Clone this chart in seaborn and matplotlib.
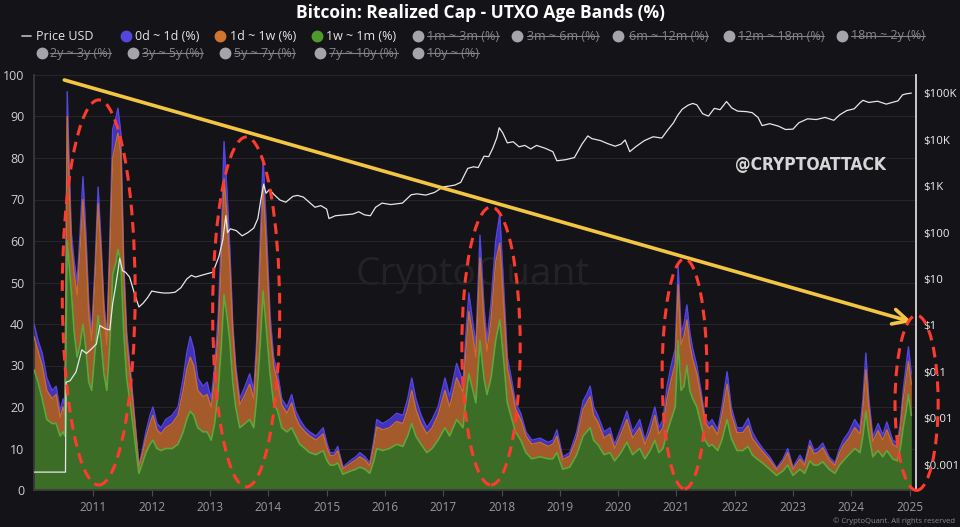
import matplotlib
matplotlib.use('Agg')
import matplotlib.pyplot as plt
import seaborn as sns
import pandas as pd
from matplotlib.patches import Ellipse
from matplotlib.lines import Line2D
from matplotlib.ticker import NullLocator

# ---------------------------------------------------------------------------
# Data
# ---------------------------------------------------------------------------
band_year = [
    2009.98, 2010.05, 2010.12, 2010.20, 2010.29, 2010.36, 2010.43, 2010.48, 2010.51, 2010.55,
    2010.58, 2010.62, 2010.67, 2010.72, 2010.77, 2010.82, 2010.87, 2010.92, 2010.97,
    2011.03, 2011.08, 2011.13, 2011.18, 2011.23, 2011.28, 2011.33, 2011.39, 2011.42, 2011.47,
    2011.52, 2011.57, 2011.64, 2011.71, 2011.78, 2011.83, 2011.90, 2011.97,
    2012.02, 2012.09, 2012.16, 2012.24, 2012.35, 2012.45, 2012.54, 2012.60, 2012.66, 2012.72,
    2012.79, 2012.88, 2012.95,
    2013.02, 2013.08, 2013.14, 2013.19, 2013.24, 2013.29, 2013.34, 2013.39, 2013.44, 2013.51,
    2013.60, 2013.68, 2013.75, 2013.80, 2013.86, 2013.91, 2013.96,
    2014.03, 2014.09, 2014.16, 2014.23, 2014.32, 2014.40, 2014.47, 2014.54, 2014.63, 2014.71,
    2014.82, 2014.94,
    2015.01, 2015.06, 2015.13, 2015.19, 2015.28, 2015.40, 2015.50, 2015.57, 2015.66, 2015.74,
    2015.81, 2015.86, 2015.96,
    2016.08, 2016.20, 2016.31, 2016.39, 2016.46, 2016.53, 2016.62, 2016.72, 2016.81, 2016.91,
    2017.03, 2017.11, 2017.23, 2017.34, 2017.39, 2017.44, 2017.51, 2017.56, 2017.63, 2017.70,
    2017.75, 2017.82, 2017.90, 2017.97,
    2018.04, 2018.10, 2018.18, 2018.24, 2018.33, 2018.42, 2018.52, 2018.66, 2018.80, 2018.88,
    2018.95,
    2019.05, 2019.17, 2019.29, 2019.40, 2019.46, 2019.52, 2019.58, 2019.65, 2019.76, 2019.86,
    2019.94,
    2020.05, 2020.15, 2020.25, 2020.37, 2020.46, 2020.55, 2020.63, 2020.70, 2020.77, 2020.84,
    2020.91, 2020.98,
    2021.03, 2021.08, 2021.13, 2021.18, 2021.23, 2021.28, 2021.35, 2021.42, 2021.49, 2021.56,
    2021.61, 2021.71, 2021.78, 2021.87, 2021.94,
    2022.04, 2022.14, 2022.23, 2022.30, 2022.38, 2022.48, 2022.60, 2022.72, 2022.83, 2022.91,
    2023.00, 2023.12, 2023.20, 2023.29, 2023.36, 2023.43, 2023.51, 2023.62, 2023.72, 2023.80,
    2023.86, 2023.96,
    2024.06, 2024.15, 2024.20, 2024.25, 2024.30, 2024.37, 2024.46, 2024.54, 2024.61, 2024.71,
    2024.79, 2024.84, 2024.89, 2024.94, 2024.98, 2025.03,
]

# 1w ~ 1m band (%), bottom layer
band_1w_1m = [
    29, 26, 22, 17, 16, 16, 13, 14, 13, 60,
    55, 48, 38, 32, 35, 40, 34, 26, 24,
    34, 42, 36, 28, 24, 35, 52, 55, 58, 55,
    38, 27, 20, 12, 4, 6, 9, 11,
    12, 10, 9.5, 10, 10, 11, 14, 17, 19, 18,
    15, 14, 14,
    12, 16, 24, 34, 47, 42, 36, 26, 20, 15,
    16, 17, 15, 22, 35, 48, 40,
    28, 21, 19, 15, 14, 15, 13, 11, 10, 9,
    8.5, 9.5,
    7, 6, 6, 6.5, 3.8, 4.5, 5, 5.5, 5, 4,
    7, 10, 9.5,
    10, 11, 10.5, 13, 16, 13, 11, 9, 10, 12,
    15, 13, 17, 15, 22, 28, 24, 21, 36, 27,
    23, 27, 36, 41,
    31, 21, 17, 14, 12, 9, 7.5, 8, 7.5, 7.5,
    9,
    5, 5.5, 8.5, 13, 14, 15, 12, 11, 8.5, 9,
    7,
    9, 11.5, 8.5, 10, 7.5, 9.5, 12, 9, 10, 14,
    17, 20,
    36, 24, 25, 30, 24, 22, 20, 16, 12, 10.5,
    11, 9.5, 12, 17, 12.5,
    9.5, 9.5, 10.5, 8.5, 7.5, 6.5, 5, 3.5, 4.6, 6,
    3.5, 5, 4, 7, 6, 6, 6.8, 5, 4, 6,
    7, 8.5,
    10, 9, 13, 19, 13.5, 8, 9.5, 8, 9.5, 7.5,
    7, 10, 15, 19, 23, 18,
]

# 1d ~ 1w band (%), middle layer
band_1d_1w = [
    8, 7.5, 8, 7, 6, 7, 4.5, 6, 5, 30,
    20, 11, 14, 15, 23, 30, 24, 16, 12,
    18, 27, 21, 15, 11, 21, 28, 29, 28, 26,
    14, 9, 6.5, 4, 1.5, 2.2, 3.5, 5,
    6, 4.5, 4, 5, 6, 7, 10, 12, 13, 12,
    9, 8.5, 9,
    8, 11, 14, 20, 28, 24, 18, 12, 8.5, 5.5,
    7, 8.5, 7, 11, 20, 25, 20,
    11, 9, 7, 5.5, 4.5, 6, 4.5, 4.5, 4, 4,
    3.5, 4,
    3, 2.3, 2.2, 3, 1.3, 1.8, 2.2, 2.5, 2.2, 1.8,
    3.8, 5.2, 5,
    5, 5.5, 5.5, 6.5, 8, 6.5, 5, 4.5, 5, 6,
    9, 7, 10, 8.5, 12, 15, 13, 11, 20, 13.5,
    10.5, 14, 19, 18.5,
    13, 8.5, 7, 5.5, 5, 4, 3.5, 3.5, 3, 3.5,
    4,
    2.3, 2.7, 4, 6.5, 7, 7.5, 6, 5.5, 4, 4.5,
    3,
    4.5, 5.5, 4, 5, 3.5, 4.5, 6, 4.5, 5, 8,
    9.5, 10.5,
    13.5, 11, 12, 11, 11, 9.5, 8, 6.5, 4.5, 4.3,
    4.5, 3.8, 6, 8.5, 5.8,
    4.3, 4.3, 5, 4, 3.5, 2.7, 2.3, 1.4, 2.2, 3,
    1.5, 2.5, 1.9, 3.7, 2.7, 3, 3.4, 2.3, 1.9, 3,
    3.7, 4,
    5, 4.5, 6.5, 10, 6.5, 3.7, 4.8, 4, 5, 3.5,
    3.3, 4.5, 6.8, 8, 8, 7.5,
]

# 0d ~ 1d band (%), top layer
band_0d_1d = [
    3, 2.5, 3, 3, 2, 2, 1.5, 2, 2, 6,
    5, 3, 3, 3, 4, 5.5, 4, 3, 2,
    3, 4, 3, 2, 2, 4, 7, 6, 6, 5,
    3, 2, 1.5, 1, 0.5, 0.8, 1.5, 2,
    2, 1.5, 1.5, 2, 2, 2, 3, 4, 5, 4,
    3, 2.5, 3,
    2, 3, 4, 6, 9, 6, 4, 2, 1.5, 1.5,
    2, 2.5, 2, 3, 5, 7, 5,
    3, 2, 2, 1.5, 1.5, 2, 1.5, 1.5, 1, 1,
    1, 1.5,
    1, 0.7, 0.8, 1, 0.4, 0.7, 0.8, 1, 0.8, 0.7,
    1.2, 1.8, 1.5,
    2, 2, 2, 2.5, 3, 2.5, 2, 1.5, 2, 2,
    3, 2.5, 3.5, 2.5, 4, 4.5, 3, 3, 5.4, 3.5,
    2.5, 4, 5, 7,
    4, 2.5, 2, 1.5, 1.5, 1, 1, 1, 1, 1,
    1.5,
    0.7, 0.8, 1.5, 2, 2, 2.5, 2, 1.5, 1.5, 1.5,
    1,
    1.5, 2, 1.5, 2, 1, 2, 2, 1.5, 2, 3,
    3.5, 3.5,
    4.5, 3, 3, 3.6, 3, 2.5, 2, 1.5, 1, 1.2,
    1.5, 1.2, 2, 3, 1.7,
    1.2, 1.2, 1.8, 1.5, 1, 0.8, 0.7, 0.4, 0.7, 1,
    0.5, 0.9, 0.6, 1.3, 0.9, 1, 1.1, 0.7, 0.6, 1,
    1.3, 1.5,
    2, 1.5, 2.5, 4, 2, 1.1, 1.7, 1.3, 1.9, 1,
    1, 1.5, 2.2, 3, 3.5, 2.5,
]

price_year = [
    2009.98, 2010.52, 2010.53, 2010.60, 2010.70, 2010.80, 2010.88, 2010.95, 2011.05, 2011.11,
    2011.20, 2011.28, 2011.33, 2011.38, 2011.42, 2011.45, 2011.50, 2011.55, 2011.62, 2011.70,
    2011.78, 2011.85, 2011.93, 2012.00, 2012.10, 2012.20, 2012.30, 2012.40, 2012.50, 2012.60,
    2012.68, 2012.75, 2012.85, 2012.95, 2013.05, 2013.15, 2013.22, 2013.27, 2013.30, 2013.35,
    2013.45, 2013.55, 2013.65, 2013.75, 2013.82, 2013.87, 2013.92, 2013.96, 2014.02, 2014.10,
    2014.20, 2014.30, 2014.42, 2014.50, 2014.60, 2014.70, 2014.80, 2014.90, 2015.00, 2015.04,
    2015.15, 2015.30, 2015.45, 2015.55, 2015.65, 2015.75, 2015.84, 2015.95, 2016.10, 2016.30,
    2016.45, 2016.55, 2016.70, 2016.85, 2017.00, 2017.10, 2017.20, 2017.30, 2017.42, 2017.52,
    2017.60, 2017.70, 2017.78, 2017.85, 2017.92, 2017.96, 2018.02, 2018.10, 2018.20, 2018.30,
    2018.40, 2018.50, 2018.60, 2018.75, 2018.88, 2018.95, 2019.10, 2019.25, 2019.38, 2019.48,
    2019.55, 2019.70, 2019.82, 2019.95, 2020.05, 2020.12, 2020.20, 2020.30, 2020.45, 2020.60,
    2020.75, 2020.85, 2020.95, 2021.02, 2021.10, 2021.20, 2021.28, 2021.35, 2021.45, 2021.55,
    2021.65, 2021.75, 2021.86, 2021.95, 2022.05, 2022.20, 2022.30, 2022.40, 2022.47, 2022.60,
    2022.75, 2022.87, 2023.00, 2023.10, 2023.25, 2023.40, 2023.55, 2023.70, 2023.80, 2023.92,
    2024.05, 2024.15, 2024.20, 2024.30, 2024.45, 2024.60, 2024.70, 2024.80, 2024.88, 2024.95,
    2025.03,
]

price_usd = [
    0.0007, 0.0007, 0.06, 0.065, 0.1, 0.3, 0.25, 0.3, 0.4, 1.0,
    0.85, 0.8, 3.0, 7, 15, 28, 15, 14, 11, 5,
    2.5, 3.0, 4, 5.5, 5.2, 5, 5, 5.2, 6.5, 10,
    12, 11, 12, 13, 14, 30, 70, 230, 100, 120,
    110, 85, 100, 125, 200, 500, 1100, 700, 850, 650,
    500, 450, 600, 630, 580, 450, 350, 380, 320, 200,
    230, 240, 250, 280, 240, 230, 350, 430, 400, 430,
    650, 680, 640, 730, 960, 1000, 1050, 1200, 2400, 2600,
    2500, 4400, 4300, 6500, 11000, 18000, 14000, 8500, 9000, 7000,
    7500, 6300, 7500, 6500, 5500, 3500, 3700, 4100, 8000, 12000,
    10500, 9500, 8200, 7200, 8000, 9800, 5500, 7000, 9500, 11500,
    10800, 16000, 23000, 33000, 45000, 55000, 60000, 56000, 36000, 32000,
    47000, 44000, 66000, 48000, 41000, 40000, 38000, 30000, 20000, 22000,
    19500, 16500, 16800, 23000, 28000, 27000, 30000, 26000, 34000, 42000,
    46000, 62000, 70000, 63000, 67000, 58000, 63000, 68000, 92000, 97000,
    100000,
]

year_ticks = list(range(2011, 2026))
pct_ticks = list(range(0, 101, 10))
price_ticks = [0.001, 0.01, 0.1, 1, 10, 100, 1e3, 1e4, 1e5]
price_tick_labels = ['$0.001', '$0.01', '$0.1', '$1', '$10', '$100', '$1K', '$10K', '$100K']

title = 'Bitcoin: Realized Cap - UTXO Age Bands (%)'
legend_active = ['0d ~ 1d (%)', '1d ~ 1w (%)', '1w ~ 1m (%)']
legend_hidden = ['1m ~ 3m (%)', '3m ~ 6m (%)', '6m ~ 12m (%)', '12m ~ 18m (%)',
                 '18m ~ 2y (%)', '2y ~ 3y (%)', '3y ~ 5y (%)', '5y ~ 7y (%)',
                 '7y ~ 10y (%)', '10y ~ (%)']

assert len(band_year) == len(band_1w_1m) == len(band_1d_1w) == len(band_0d_1d)
assert len(price_year) == len(price_usd)

# ---------------------------------------------------------------------------
# Style
# ---------------------------------------------------------------------------
BG = '#141418'
BLUE, ORANGE, GREEN = '#4232bd', '#a45a2b', '#3b6d27'
BLUE_EDGE, ORANGE_EDGE, GREEN_EDGE = '#5646e0', '#c76e2f', '#5da83b'
GREY = '#84848a'

sns.set_theme(style='dark', rc={'axes.facecolor': BG, 'figure.facecolor': BG})
plt.rcParams['font.family'] = ['Open Sans', 'DejaVu Sans']

W, H = 960, 527
fig = plt.figure(figsize=(W / 100, H / 100), dpi=100, facecolor=BG)
ax = fig.add_axes([34 / W, 1 - 490 / H, (916 - 34) / W, (490 - 75) / H])
ax.set_facecolor(BG)

# stacked bands
df = pd.DataFrame({'year': band_year, 'g': band_1w_1m, 'o': band_1d_1w, 'b': band_0d_1d})
df['g_top'] = df['g']
df['o_top'] = df['g'] + df['o']
df['b_top'] = df['o_top'] + df['b']

ax.fill_between(df['year'], df['o_top'], df['b_top'], color=BLUE, lw=0, zorder=2)
ax.fill_between(df['year'], df['g_top'], df['o_top'], color=ORANGE, lw=0, zorder=2)
ax.fill_between(df['year'], 0, df['g_top'], color=GREEN, lw=0, zorder=2)
sns.lineplot(data=df, x='year', y='b_top', color=BLUE_EDGE, lw=1.0, ax=ax, zorder=3)
sns.lineplot(data=df, x='year', y='o_top', color=ORANGE_EDGE, lw=1.0, ax=ax, zorder=3)
sns.lineplot(data=df, x='year', y='g_top', color=GREEN_EDGE, lw=1.2, ax=ax, zorder=3)

ax.set_xlim(2009.98, 2025.11)
ax.set_ylim(0, 100)
ax.set_xticks(year_ticks)
ax.set_xticklabels([str(y) for y in year_ticks])
ax.set_yticks(pct_ticks)
ax.set_yticklabels([str(v) for v in pct_ticks])
ax.set_xlabel('')
ax.set_ylabel('')
ax.yaxis.grid(True, color='#26262c', lw=0.7)
ax.xaxis.grid(False)
ax.set_axisbelow(True)
ax.tick_params(axis='y', length=0, pad=7, labelsize=9, labelcolor='#cfcfcf')
ax.tick_params(axis='x', length=4, width=0.8, color='#4a4a50', pad=4,
               labelsize=8.5, labelcolor='#9a9a9a', bottom=True)
for side in ['top', 'right']:
    ax.spines[side].set_visible(False)
ax.spines['left'].set_color('#3a3a40')
ax.spines['bottom'].set_color('#3a3a40')

# faint CryptoQuant watermark
ax.text(0.497, 0.518, 'CryptoQuant', transform=ax.transAxes, ha='center', va='center',
        fontsize=28, color='#232327', zorder=1)

# price on a log axis
ax2 = ax.twinx()
ax2.set_yscale('log')
sns.lineplot(x=price_year, y=price_usd, color='#e6e6e6', lw=0.9, ax=ax2, zorder=4)
ax2.set_ylim(10 ** -3.54, 10 ** 5.39)
ax2.set_yticks(price_ticks)
ax2.set_yticklabels(price_tick_labels)
ax2.yaxis.set_minor_locator(NullLocator())
ax2.set_ylabel('')
ax2.tick_params(axis='y', length=0, pad=5, labelsize=8.2, labelcolor='#ececec')
for side in ['top', 'left', 'bottom']:
    ax2.spines[side].set_visible(False)
ax2.spines['right'].set_color('#d8d8d8')
ax2.spines['right'].set_linewidth(1.3)
ax2.grid(False)

# yellow trend arrow
ax2.annotate('', xy=(2025.04, 40.5), xytext=(2010.5, 98.8),
             xycoords=ax.transData, textcoords=ax.transData, annotation_clip=False,
             arrowprops=dict(arrowstyle='->,head_length=0.9,head_width=0.45',
                             color='#f4c542', lw=2.6, shrinkA=0, shrinkB=0), zorder=6)

# red dashed highlight ellipses (centre x, centre y, width, height)
for cx, cy, w, h in [(2011.09, 47.6, 1.25, 92.8), (2013.62, 42.9, 1.15, 84.3),
                     (2017.82, 34.7, 1.0, 67.0), (2021.14, 28.0, 0.77, 55.4),
                     (2025.12, 21.0, 0.74, 42.2)]:
    e = Ellipse((cx, cy), w, h, transform=ax.transData, fill=False,
                edgecolor='#ff3b2f', lw=2.2, linestyle=(0, (3.5, 2.2)),
                clip_on=False, zorder=7)
    ax2.add_patch(e)
ax2.set_ylim(10 ** -3.54, 10 ** 5.39)

# @CRYPTOATTACK tag
fig.text(810 / W, 1 - 165 / H, '@CRYPTOATTACK', ha='center', va='center',
         fontsize=12.5, fontweight='bold', fontstretch='condensed', color='#d6d6d6',
         family=['Liberation Sans Narrow', 'DejaVu Sans'])

# title
fig.text(0.5, 1 - 13 / H, title, ha='center', va='center', fontsize=12.5,
         fontweight='bold', color='white')

# legend (built by hand so hidden series can be struck through)
def fx(px):
    return px / W

def fy(py):
    return 1 - py / H

row1, row2 = 36, 53
fig.add_artist(Line2D([fx(22), fx(31)], [fy(row1), fy(row1)], color='#bdbdbd', lw=1.2,
                      transform=fig.transFigure))
fig.text(fx(36), fy(row1), 'Price USD', ha='left', va='center', fontsize=9, color='#e6e6e6')

active_pos = [(126, 135), (220, 230), (317, 326)]
for (cxp, tx), label, col in zip(active_pos, legend_active, [BLUE_EDGE, '#d2752c', '#4f9a2c']):
    fig.add_artist(Line2D([fx(cxp)], [fy(row1)], marker='o', ms=7.5, color=col, lw=0,
                          transform=fig.transFigure))
    fig.text(fx(tx), fy(row1), label, ha='left', va='center', fontsize=9, color='#e6e6e6')

hidden_pos = [(418, 427, row1), (517, 527, row1), (618, 629, row1), (729, 738, row1),
              (842, 851, row1), (42, 50, row2), (133, 142, row2), (225, 234, row2),
              (320, 329, row2), (418, 427, row2)]
hidden_texts = []
for (cxp, tx, ry), label in zip(hidden_pos, legend_hidden):
    fig.add_artist(Line2D([fx(cxp)], [fy(ry)], marker='o', ms=7.5, color='#a4a4aa', lw=0,
                          transform=fig.transFigure))
    hidden_texts.append(fig.text(fx(tx), fy(ry), label, ha='left', va='center',
                                 fontsize=9, color=GREY))

fig.canvas.draw()
renderer = fig.canvas.get_renderer()
for t in hidden_texts:
    bb = t.get_window_extent(renderer)
    ymid = (bb.y0 + bb.y1) / 2 / H
    fig.add_artist(Line2D([bb.x0 / W, bb.x1 / W], [ymid, ymid], color=GREY, lw=0.8,
                          transform=fig.transFigure))

# footer
fig.text(955 / W, 1 - 521 / H, '\u00a9 CryptoQuant. All rights reserved', ha='right',
         va='center', fontsize=5.5, color='#8a8a8a')

fig.savefig('out.png', dpi=100, facecolor=BG)
plt.close(fig)
